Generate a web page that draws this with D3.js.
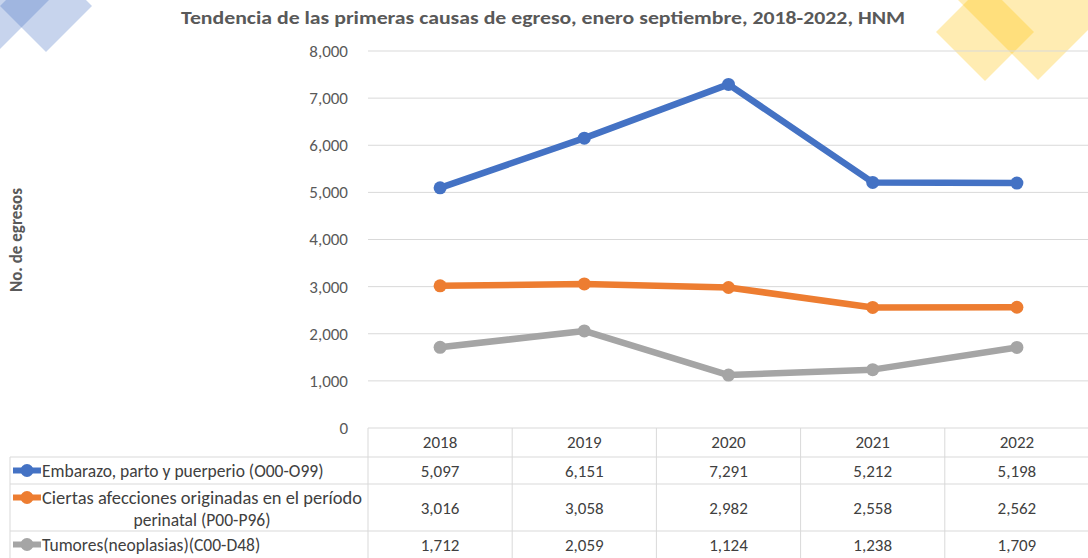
<!DOCTYPE html>
<html lang="es">
<head>
  <meta charset="UTF-8">
  <title>Tendencia de egresos HNM</title>
  <style>
    body { margin: 0; background: #fff; }
    svg text { font-family: Carlito, Calibri, Lato, sans-serif; }
  </style>
</head>
<body>

  <svg id="svg" width="1088" height="558"></svg>

  <script src="https://cdn.jsdelivr.net/npm/d3@7"></script>
  <script>
    // data
    const years = ['2018', '2019', '2020', '2021', '2022'];
    const seriesNames = [
      'Embarazo, parto y puerperio (O00-O99)',
      'Ciertas afecciones originadas en el período perinatal (P00-P96)',
      'Tumores(neoplasias)(C00-D48)'
    ];
    const embarazo = [5097, 6151, 7291, 5212, 5198];
    const perinatal = [3016, 3058, 2982, 2558, 2562];
    const tumores = [1712, 2059, 1124, 1238, 1709];
    const yTicks = [0, 1000, 2000, 3000, 4000, 5000, 6000, 7000, 8000];
    const colors = ['#4472C4', '#ED7D31', '#A5A5A5'];

    const series = [embarazo, perinatal, tumores].map((v, i) => ({ name: seriesNames[i], values: v, color: colors[i] }));

    const svg = d3.select('#svg');
    const W = 1088;
    const plotTop = 51, plotBottom = 428, plotLeft = 368, plotRight = 1089;

    // corner decorations
    const diamond = (cx, cy, h) => `M${cx},${cy - h}L${cx + h},${cy}L${cx},${cy + h}L${cx - h},${cy}Z`;
    const deco = svg.append('g');
    deco.append('path').attr('d', diamond(0, 0, 49)).attr('fill', '#4472C4').attr('opacity', 0.3);
    deco.append('path').attr('d', diamond(46, 6, 46)).attr('fill', '#4472C4').attr('opacity', 0.3);
    deco.append('path').attr('d', diamond(985, 32, 49)).attr('fill', '#FFC000').attr('opacity', 0.3);
    deco.append('path').attr('d', diamond(1038, 0, 80)).attr('fill', '#FFC000').attr('opacity', 0.3);

    const x = d3.scaleBand().domain(years).range([plotLeft, plotRight]);
    const y = d3.scaleLinear().domain([0, 8000]).range([plotBottom, plotTop]);

    // gridlines
    svg.append('g')
      .selectAll('line')
      .data(yTicks)
      .enter()
      .append('line')
      .attr('x1', plotLeft)
      .attr('x2', W)
      .attr('y1', d => y(d))
      .attr('y2', d => y(d))
      .attr('stroke', '#D9D9D9')
      .attr('stroke-width', 1);

    // y axis labels
    const yAxis = svg.append('g')
      .attr('transform', `translate(${plotLeft - 17},0)`)
      .call(d3.axisLeft(y).tickValues(yTicks).tickSize(0).tickFormat(d3.format(',')));
    yAxis.select('.domain').remove();
    yAxis.selectAll('text')
      .attr('fill', '#595959')
      .style('font-size', '17px');

    svg.append('text')
      .attr('transform', 'translate(22,240) rotate(-90)')
      .attr('text-anchor', 'middle')
      .attr('fill', '#595959')
      .style('font-size', '17px')
      .style('font-weight', 'bold')
      .text('No. de egresos');

    // title
    svg.append('text')
      .attr('x', 543)
      .attr('y', 24)
      .attr('text-anchor', 'middle')
      .attr('fill', '#595959')
      .attr('textLength', 724)
      .attr('lengthAdjust', 'spacingAndGlyphs')
      .style('font-size', '19px')
      .style('font-weight', 'bold')
      .text('Tendencia de las primeras causas de egreso, enero septiembre, 2018-2022, HNM');

    // lines
    const line = d3.line()
      .x((d, i) => x(years[i]) + x.bandwidth() / 2)
      .y(d => y(d));

    const sg = svg.append('g')
      .selectAll('g')
      .data(series)
      .enter()
      .append('g');

    sg.append('path')
      .attr('d', d => line(d.values))
      .attr('fill', 'none')
      .attr('stroke', d => d.color)
      .attr('stroke-width', 6.5)
      .attr('stroke-linejoin', 'round');

    sg.selectAll('circle')
      .data(d => d.values.map(v => ({ v, color: d.color })))
      .enter()
      .append('circle')
      .attr('cx', (d, i) => x(years[i]) + x.bandwidth() / 2)
      .attr('cy', d => y(d.v))
      .attr('r', 6.5)
      .attr('fill', d => d.color);

    // data table
    const rowEdges = [428, 457, 484, 531, 558];
    const tableLeft = 10;
    const grid = svg.append('g').attr('stroke', '#D9D9D9').attr('stroke-width', 1);
    rowEdges.slice(1, 4).forEach(r => {
      grid.append('line').attr('x1', tableLeft).attr('x2', W).attr('y1', r).attr('y2', r);
    });
    grid.append('line').attr('x1', tableLeft).attr('x2', tableLeft).attr('y1', rowEdges[1]).attr('y2', W);
    years.forEach(yr => {
      grid.append('line')
        .attr('x1', x(yr)).attr('x2', x(yr))
        .attr('y1', plotBottom).attr('y2', 558);
    });

    svg.append('g')
      .selectAll('text')
      .data(years)
      .enter()
      .append('text')
      .attr('x', d => x(d) + x.bandwidth() / 2)
      .attr('y', 448)
      .attr('text-anchor', 'middle')
      .attr('fill', '#404040')
      .style('font-size', '17px')
      .text(d => d);

    const rowMid = i => (rowEdges[i + 1] + rowEdges[i + 2]) / 2;

    series.forEach((s, i) => {
      const cy = rowMid(i);
      svg.append('g')
        .selectAll('text')
        .data(s.values)
        .enter()
        .append('text')
        .attr('x', (d, j) => x(years[j]) + x.bandwidth() / 2)
        .attr('y', cy + 6)
        .attr('text-anchor', 'middle')
        .attr('fill', '#404040')
        .style('font-size', '17px')
        .text(d3.format(','));

      // legend key
      const ky = i === 1 ? cy - 10 : cy;
      svg.append('line')
        .attr('x1', 13).attr('x2', 41)
        .attr('y1', ky).attr('y2', ky)
        .attr('stroke', s.color).attr('stroke-width', 6);
      svg.append('circle')
        .attr('cx', 27).attr('cy', ky)
        .attr('r', 6.5).attr('fill', s.color);
    });

    const legendText = svg.append('g')
      .attr('fill', '#404040')
      .style('font-size', '17.5px');
    legendText.append('text').attr('x', 42).attr('y', rowMid(0) + 6).text(seriesNames[0]);
    legendText.append('text').attr('x', 42).attr('y', rowMid(1) - 4)
      .attr('textLength', 320).attr('lengthAdjust', 'spacingAndGlyphs')
      .text('Ciertas afecciones originadas en el período');
    legendText.append('text').attr('x', 202).attr('y', rowMid(1) + 18).attr('text-anchor', 'middle').text('perinatal (P00-P96)');
    legendText.append('text').attr('x', 42).attr('y', rowMid(2) + 6).text(seriesNames[2]);
  </script>
</body>
</html>
